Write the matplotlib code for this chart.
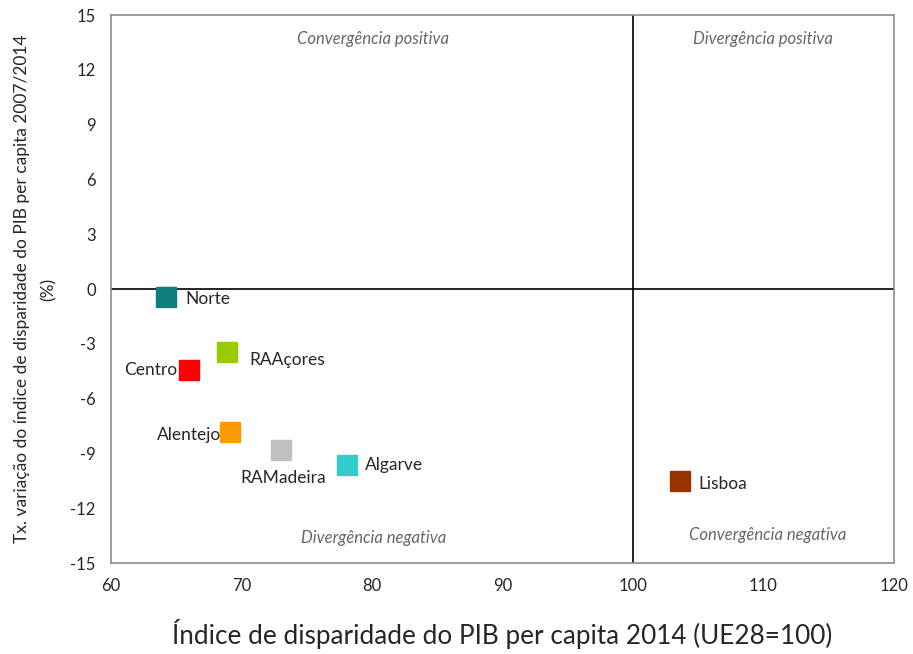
import matplotlib.pyplot as plt

plt.rcParams['font.family'] = ['Lato', 'DejaVu Sans']
plt.rcParams['axes.unicode_minus'] = False

regioes = ["Norte", "Centro", "RAAçores", "Alentejo", "RAMadeira", "Algarve", "Lisboa"]
indice_2014 = [64.2, 66.0, 68.9, 69.1, 73.0, 78.1, 103.6]
tx_variacao = [-0.45, -4.45, -3.45, -7.85, -8.8, -9.65, -10.5]
cores = ["#0E7F7E", "#FF0000", "#99CC00", "#FF9900", "#C0C0C0", "#33CCCC", "#993300"]

# posicao do rotulo de cada regiao (offset em pontos, alinhamento)
rotulos = {
    "Norte": ((14, -1), "left"),
    "Centro": ((-9, 0), "right"),
    "RAAçores": ((16, -6), "left"),
    "Alentejo": ((-6, -2), "right"),
    "RAMadeira": ((2, -20), "center"),
    "Algarve": ((13, 0), "left"),
    "Lisboa": ((13, -2), "left"),
}

fig = plt.figure(figsize=(9.13, 6.54), dpi=100)
ax = fig.add_axes([0.1216, 0.139, 0.8574, 0.838])

ax.axhline(0, color="black", lw=1.2, zorder=1)
ax.axvline(100, color="black", lw=1.2, zorder=1)

for nome, x, y, c in zip(regioes, indice_2014, tx_variacao, cores):
    ax.plot(x, y, marker="s", ms=14, color=c, mec=c, ls="none", zorder=3)
    off, ha = rotulos[nome]
    ax.annotate(nome, (x, y), xytext=off, textcoords="offset points",
                ha=ha, va="center", fontsize=12.5, color="#262626")

quad = dict(fontsize=12, style="italic", color="#666666", ha="center", va="center")
ax.text(80.1, 13.7, "Convergência positiva", **quad)
ax.text(110.0, 13.7, "Divergência positiva", **quad)
ax.text(80.1, -13.6, "Divergência negativa", **quad)
ax.text(110.3, -13.45, "Convergência negativa", **quad)

ax.set_xlim(60, 120)
ax.set_ylim(-15, 15)
ax.set_xticks(range(60, 121, 10))
ax.set_yticks(range(-15, 16, 3))
ax.tick_params(length=0, labelsize=12, labelcolor="#262626", pad=11)
for s in ax.spines.values():
    s.set_color("#8C8C8C")
    s.set_linewidth(1.2)

ax.set_xlabel("Índice de disparidade do PIB per capita 2014 (UE28=100)",
              fontsize=18.8, color="#262626", labelpad=18)
ax.set_ylabel("Tx. variação do índice de disparidade do PIB per capita 2007/2014\n(%)",
              fontsize=12.5, color="#262626", labelpad=10, linespacing=1.8)

fig.savefig("out.png", dpi=100)
